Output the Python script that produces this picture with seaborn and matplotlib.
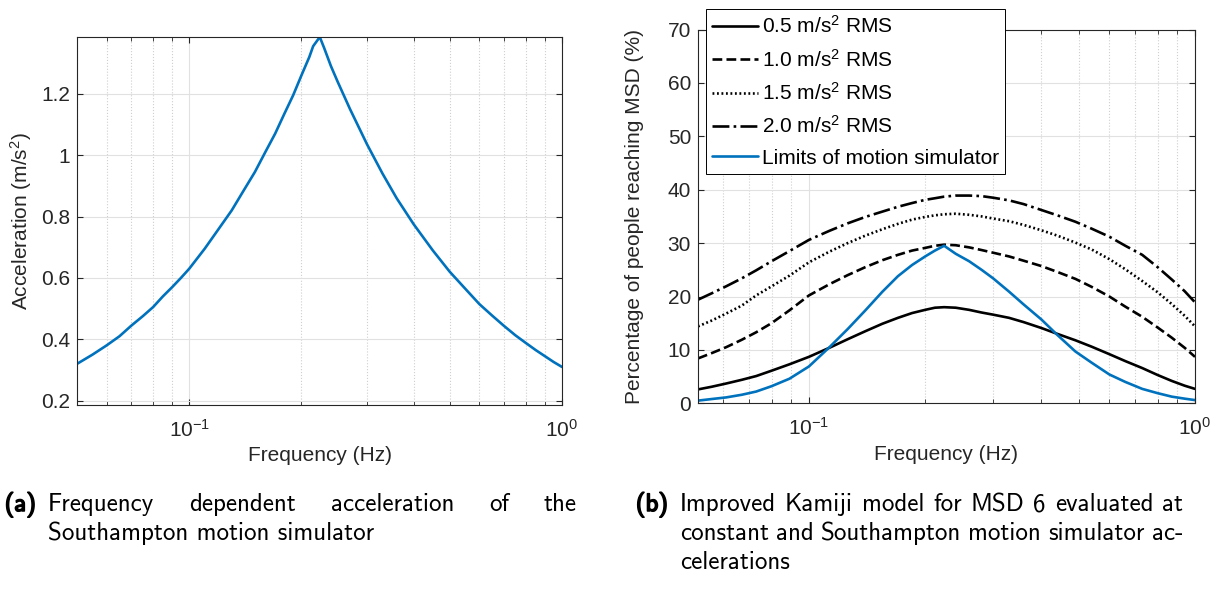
import matplotlib
matplotlib.use('Agg')
import numpy as np
import pandas as pd
import matplotlib.pyplot as plt
import matplotlib.ticker as mticker
import matplotlib.patheffects as pe
import seaborn as sns

# -------------------------------
# data
# -------------------------------
# (a) acceleration limit of the simulator
freq_a = [0.05, 0.055, 0.06, 0.065, 0.07, 0.075, 0.08, 0.085, 0.09, 0.095, 0.10,
          0.11, 0.12, 0.13, 0.14, 0.15, 0.16, 0.17, 0.18, 0.19, 0.20, 0.21, 0.215,
          0.224, 0.23, 0.24, 0.25, 0.27, 0.30, 0.33, 0.36, 0.40, 0.45, 0.50, 0.55,
          0.60, 0.65, 0.70, 0.75, 0.80, 0.85, 0.90, 0.95, 1.00]
accel_a = [0.32, 0.35, 0.38, 0.41, 0.445, 0.475, 0.505, 0.54, 0.57, 0.60, 0.63,
           0.695, 0.76, 0.82, 0.885, 0.945, 1.01, 1.07, 1.135, 1.195, 1.26, 1.32, 1.355,
           1.385, 1.35, 1.29, 1.24, 1.15, 1.035, 0.94, 0.86, 0.775, 0.69, 0.62, 0.565,
           0.515, 0.477, 0.443, 0.413, 0.388, 0.365, 0.345, 0.326, 0.31]

# (b) percentage of people reaching MSD
freq_b = [0.0516, 0.056, 0.061, 0.067, 0.073, 0.08, 0.089, 0.10, 0.113, 0.126,
          0.14, 0.155, 0.17, 0.185, 0.20, 0.212, 0.224, 0.24, 0.26, 0.28, 0.30,
          0.33, 0.36, 0.40, 0.44, 0.49, 0.54, 0.60, 0.66, 0.73, 0.80, 0.87, 0.94, 1.00]
rms_05 = [2.6, 3.1, 3.7, 4.4, 5.1, 6.1, 7.3, 8.7, 10.4, 12.0,
          13.5, 14.9, 16.0, 16.9, 17.5, 17.9, 18.0, 17.9, 17.5, 17.0, 16.6,
          16.0, 15.2, 14.1, 13.0, 11.8, 10.6, 9.2, 7.9, 6.6, 5.3, 4.2, 3.3, 2.7]
rms_10 = [8.4, 9.4, 10.5, 11.9, 13.3, 15.0, 17.4, 20.2, 22.3, 24.0,
          25.5, 26.8, 27.8, 28.6, 29.1, 29.5, 29.7, 29.6, 29.2, 28.7, 28.2,
          27.5, 26.7, 25.7, 24.6, 23.3, 21.8, 20.0, 18.1, 16.2, 14.2, 12.3, 10.4, 8.7]
rms_15 = [14.4, 15.5, 16.8, 18.3, 20.2, 21.9, 23.9, 26.4, 28.4, 30.0,
          31.4, 32.6, 33.6, 34.4, 34.9, 35.2, 35.4, 35.5, 35.3, 35.0, 34.6,
          34.1, 33.4, 32.4, 31.4, 30.1, 28.8, 27.0, 25.1, 22.9, 20.8, 18.6, 16.4, 14.4]
rms_20 = [19.4, 20.6, 21.9, 23.4, 24.9, 26.6, 28.5, 30.6, 32.3, 33.7,
          34.9, 35.9, 36.8, 37.5, 38.1, 38.4, 38.7, 38.9, 38.9, 38.8, 38.5,
          38.0, 37.3, 36.2, 35.2, 34.0, 32.7, 31.2, 29.5, 27.8, 25.5, 23.2, 21.0, 18.9]
sim_limits = [0.5, 0.8, 1.1, 1.6, 2.2, 3.2, 4.6, 6.9, 10.5, 13.9,
              17.4, 20.9, 23.8, 25.9, 27.5, 28.6, 29.5, 28.0, 26.6, 25.0, 23.4,
              20.9, 18.5, 15.7, 12.8, 9.7, 7.6, 5.4, 4.0, 2.7, 1.9, 1.25, 0.87, 0.6]

series_labels = ['0.5 m/s$^2$ RMS', '1.0 m/s$^2$ RMS', '1.5 m/s$^2$ RMS',
                 '2.0 m/s$^2$ RMS', 'Limits of motion simulator']

caption_a = ['Frequency dependent acceleration of the', 'Southampton motion simulator']
caption_b = ['Improved Kamiji model for MSD 6 evaluated at',
             'constant and Southampton motion simulator ac-', 'celerations']

# -------------------------------
# style
# -------------------------------
sns.set_style('ticks')
plt.rcParams['font.family'] = ['Liberation Sans', 'DejaVu Sans']
plt.rcParams['mathtext.default'] = 'regular'
plt.rcParams['font.size'] = 15
plt.rcParams['axes.edgecolor'] = '#262626'
plt.rcParams['axes.linewidth'] = 0.8
plt.rcParams['xtick.color'] = '#262626'
plt.rcParams['ytick.color'] = '#262626'
plt.rcParams['axes.labelcolor'] = '#262626'

BLUE = '#0072BD'
LW = 1.9

W, H = 1221, 592
fig = plt.figure(figsize=(W / 100, H / 100), dpi=100)


def px_axes(x0, y0, x1, y1):
    return fig.add_axes([x0 / W, 1 - y1 / H, (x1 - x0) / W, (y1 - y0) / H])


def style_axes(ax):
    ax.set_xscale('log')
    ax.set_axisbelow(True)
    ax.grid(True, which='major', color='#e1e1e1', linewidth=0.8, linestyle='-')
    ax.grid(True, which='minor', axis='x', color='#cfcfcf', linewidth=0.8, linestyle=':')
    ax.tick_params(which='both', direction='in', top=True, right=True, labelsize=15)
    ax.tick_params(which='major', length=4, width=0.8)
    ax.tick_params(which='minor', length=3, width=0.6)
    ax.tick_params(axis='x', which='major', pad=10)
    ax.tick_params(axis='y', which='major', pad=5)
    ax.xaxis.set_minor_formatter(mticker.NullFormatter())
    for s in ax.spines.values():
        s.set_visible(True)
        s.set_color('#262626')


# -------------------------------
# (a) acceleration
# -------------------------------
ax1 = px_axes(77, 37, 562, 405)
sns.lineplot(x=freq_a, y=accel_a, ax=ax1, color=BLUE, linewidth=LW, sort=False)
style_axes(ax1)
ax1.set_xlim(0.05, 1)
ax1.set_ylim(0.186, 1.385)
ax1.set_yticks([0.2, 0.4, 0.6, 0.8, 1.0, 1.2])
ax1.set_yticklabels(['0.2', '0.4', '0.6', '0.8', '1', '1.2'])
ax1.set_xlabel('Frequency (Hz)', labelpad=4)
ax1.set_ylabel('Acceleration (m/s$^2$)', labelpad=5)

# -------------------------------
# (b) MSD percentage
# -------------------------------
ax2 = px_axes(698, 29.5, 1195, 403.3)
styles = ['-', '--', (0, (0.7, 1.0)), '-.', '-']
colors = ['black', 'black', 'black', 'black', BLUE]
for vals, lab, ls, c in zip([rms_05, rms_10, rms_15, rms_20, sim_limits],
                            series_labels, styles, colors):
    sns.lineplot(x=freq_b, y=vals, ax=ax2, color=c, linewidth=LW,
                 linestyle=ls, label=lab, sort=False)
style_axes(ax2)
ax2.set_xlim(0.0516, 1)
ax2.set_ylim(0, 70)
ax2.set_yticks(range(0, 80, 10))
ax2.set_xlabel('Frequency (Hz)', labelpad=4)
ax2.set_ylabel('Percentage of people reaching MSD (%)', labelpad=17)

leg = ax2.legend(loc='upper left', bbox_to_anchor=(0.0155, 1.0548), borderaxespad=0,
                 fontsize=15, handlelength=2.2, handletextpad=0.2, labelspacing=0.55,
                 borderpad=0.3, fancybox=False, framealpha=1, edgecolor='black')
leg.get_frame().set_linewidth(0.7)
for t in leg.get_texts():
    t.set_color('black')

# -------------------------------
# captions (justified, LaTeX look)
# -------------------------------
CAP_FONT = dict(family='cmss10', size=18, color='black')
renderer = fig.canvas.get_renderer()


def put_line(text, x_left, x_right, y_base, justify):
    y = 1 - y_base / H
    if not justify:
        fig.text(x_left / W, y, text, ha='left', va='baseline', **CAP_FONT)
        return
    words = text.split(' ')
    widths = []
    for w in words:
        t = fig.text(0, 0, w, **CAP_FONT)
        widths.append(t.get_window_extent(renderer).width)
        t.remove()
    gap = (x_right - x_left - sum(widths)) / (len(words) - 1)
    x = x_left
    for w, wd in zip(words, widths):
        fig.text(x / W, y, w, ha='left', va='baseline', **CAP_FONT)
        x += wd + gap


def put_label(label, x_right, y_base):
    fig.text(x_right / W, 1 - y_base / H, label, ha='right', va='baseline',
             path_effects=[pe.withStroke(linewidth=1.1, foreground='black')], **CAP_FONT)


put_label('(a)', 36, 511)
put_line(caption_a[0], 48, 577, 511, True)
put_line(caption_a[1], 48, 577, 540, False)

put_label('(b)', 668, 511)
put_line(caption_b[0], 680, 1183, 511, True)
put_line(caption_b[1], 680, 1183, 540, True)
put_line(caption_b[2], 680, 1183, 569, False)

fig.savefig('out.png', dpi=100)
